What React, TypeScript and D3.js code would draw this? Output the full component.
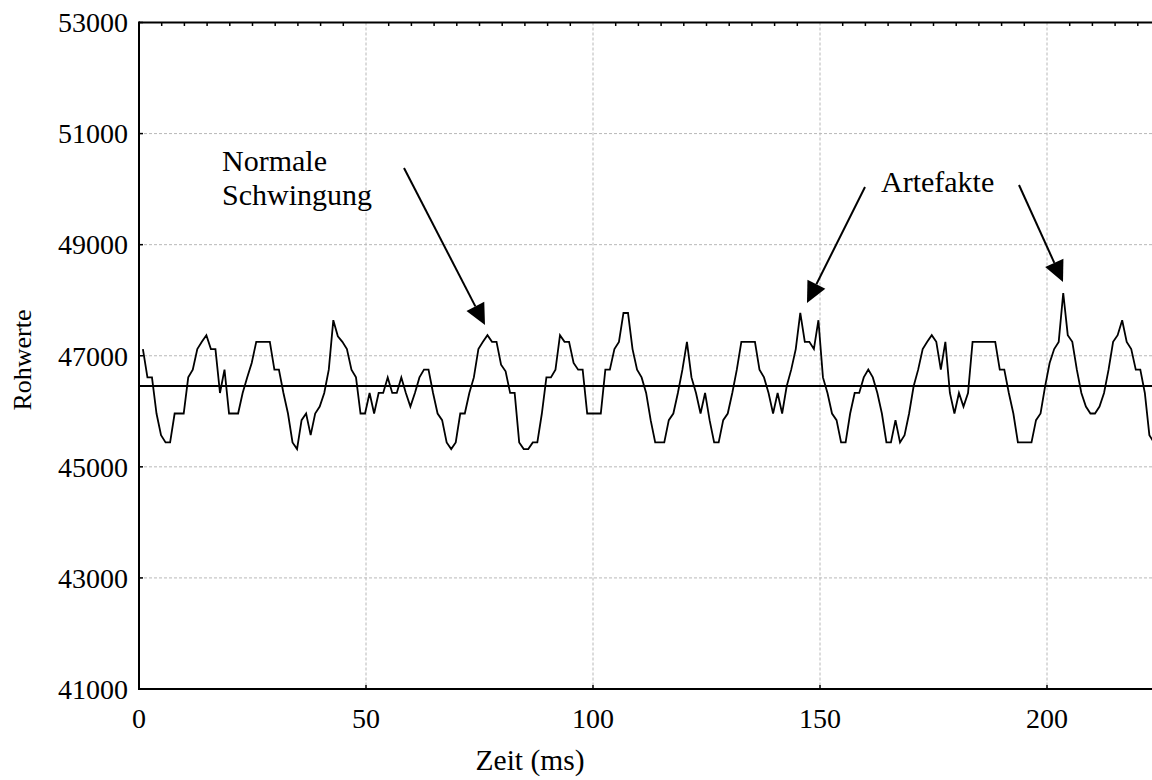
import React from "react";
import * as d3 from "d3";

// Raw values (Rohwerte), one sample per ~1 ms
const rawValues: number[] = [
  47120, 46610, 46610, 45960, 45570, 45440, 45440, 45960, 45960, 45960,
  46610, 46750, 47120, 47250, 47370, 47120, 47120, 46330, 46750, 45960,
  45960, 45960, 46330, 46610, 46870, 47250, 47250, 47250, 47250, 46750,
  46750, 46330, 45960, 45440, 45320, 45840, 45960, 45570, 45960, 46085,
  46330, 46750, 47640, 47350, 47250, 47120, 46750, 46610, 45960, 45960,
  46330, 45960, 46330, 46330, 46610, 46330, 46330, 46610, 46330, 46085,
  46330, 46610, 46750, 46750, 46330, 45960, 45840, 45440, 45320, 45440,
  45960, 45960, 46330, 46610, 47120, 47250, 47370, 47250, 47250, 46840,
  46720, 46330, 46330, 45440, 45320, 45320, 45440, 45440, 45960, 46610,
  46610, 46750, 47370, 47250, 47250, 46870, 46750, 46750, 45960, 45960,
  45960, 45960, 46750, 46750, 47120, 47250, 47770, 47770, 47120, 46750,
  46610, 46330, 45840, 45440, 45440, 45440, 45840, 45960, 46330, 46750,
  47250, 46610, 46330, 45960, 46330, 45840, 45440, 45440, 45840, 45960,
  46330, 46750, 47250, 47250, 47250, 47250, 46750, 46610, 46330, 45960,
  46330, 45960, 46450, 46750, 47120, 47770, 47250, 47250, 47120, 47640,
  46610, 46330, 45960, 45840, 45440, 45440, 45960, 46330, 46330, 46610,
  46750, 46610, 46330, 45960, 45440, 45440, 45840, 45440, 45570, 45960,
  46450, 46750, 47120, 47250, 47370, 47250, 46750, 47250, 46330, 45960,
  46330, 46085, 46330, 47250, 47250, 47250, 47250, 47250, 47250, 46750,
  46750, 46330, 45960, 45440, 45440, 45440, 45440, 45840, 45960, 46450,
  46870, 47120, 47250, 48130, 47370, 47250, 46750, 46330, 46085, 45960,
  45960, 46085, 46330, 46750, 47250, 47370, 47640, 47250, 47120, 46750,
  46750, 46330, 45570, 45440,
];

// sampling grid (ms)
const T_START = 0.86;
const T_STEP = 0.9986;

const meanLineValue = 46455;

const xTicks = [0, 50, 100, 150, 200];
const xMinorTicks = d3.range(0, 255, 5);
const yTicks = [41000, 43000, 45000, 47000, 49000, 51000, 53000];

const xTitle = "Zeit (ms)";
const yTitle = "Rohwerte";

const annotations = [
  { lines: ["Normale", "Schwingung"], x: 222, y: 171, anchor: "start" },
  { lines: ["Artefakte"], x: 881, y: 192, anchor: "start" },
];
const arrows = [
  { x1: 404, y1: 168, x2: 485, y2: 325 },
  { x1: 865, y1: 187, x2: 807, y2: 303 },
  { x1: 1019, y1: 185, x2: 1063, y2: 282 },
];

const W = 1152;
const H = 780;
const FONT = "'Liberation Serif', 'Times New Roman', Times, serif";

export default function App() {
  const x = d3.scaleLinear().domain([0, 200]).range([139, 1047]);
  const y = d3.scaleLinear().domain([41000, 53000]).range([689, 22.5]);

  const data = rawValues.map((v, i) => ({ t: T_START + i * T_STEP, v }));
  const line = d3
    .line<{ t: number; v: number }>()
    .x((d) => x(d.t))
    .y((d) => y(d.v));

  const left = x(0);
  const right = W;
  const top = y(53000);
  const bottom = y(41000);

  const arrowHead = (a: { x1: number; y1: number; x2: number; y2: number }) => {
    const dx = a.x2 - a.x1;
    const dy = a.y2 - a.y1;
    const len = Math.hypot(dx, dy);
    const ux = dx / len;
    const uy = dy / len;
    const L = 21;
    const hw = 10;
    const bx = a.x2 - ux * L;
    const by = a.y2 - uy * L;
    const p = [
      [a.x2, a.y2],
      [bx + uy * hw, by - ux * hw],
      [bx - uy * hw, by + ux * hw],
    ];
    return { pts: p.map((q) => q.join(",")).join(" "), bx, by };
  };

  return (
    <div style={{ position: "absolute", left: 0, top: 0 }}>
      <svg width={W} height={H} style={{ display: "block", background: "#fff" }}>
        <defs>
          <clipPath id="plotclip">
            <rect x={left} y={top} width={right - left} height={bottom - top} />
          </clipPath>
        </defs>
        {/* grid */}
        {xTicks
          .filter((t) => t > 0)
          .map((t) => (
            <line
              key={"gx" + t}
              x1={x(t)}
              x2={x(t)}
              y1={top}
              y2={bottom}
              stroke="#b8b8b8"
              strokeWidth={1}
              strokeDasharray="3,2"
            />
          ))}
        {yTicks
          .filter((t) => t > 41000 && t < 53000)
          .map((t) => (
            <line
              key={"gy" + t}
              x1={left}
              x2={right}
              y1={y(t)}
              y2={y(t)}
              stroke="#b8b8b8"
              strokeWidth={1}
              strokeDasharray="3,2"
            />
          ))}
        {/* mean line */}
        <line
          x1={left}
          x2={right}
          y1={y(meanLineValue)}
          y2={y(meanLineValue)}
          stroke="#000"
          strokeWidth={2}
        />
        {/* data */}
        <path
          d={line(data) || ""}
          fill="none"
          stroke="#000"
          strokeWidth={1.8}
          clipPath="url(#plotclip)"
        />
        {/* frame */}
        <line x1={left} x2={right} y1={top} y2={top} stroke="#000" strokeWidth={2} />
        <line x1={left} x2={right} y1={bottom} y2={bottom} stroke="#000" strokeWidth={2} />
        <line x1={left} x2={left} y1={top - 1} y2={bottom + 1} stroke="#000" strokeWidth={2} />
        {/* top minor ticks */}
        {xMinorTicks
          .filter((t) => t % 50 !== 0 && x(t) < W)
          .map((t) => (
            <line
              key={"tt" + t}
              x1={x(t)}
              x2={x(t)}
              y1={top}
              y2={top + 3.5}
              stroke="#000"
              strokeWidth={1.5}
            />
          ))}
        {/* bottom major ticks */}
        {xTicks.map((t) => (
          <line
            key={"bt" + t}
            x1={x(t)}
            x2={x(t)}
            y1={bottom}
            y2={bottom - 4}
            stroke="#000"
            strokeWidth={1.5}
          />
        ))}
        {/* left ticks */}
        {yTicks.map((t) => (
          <line
            key={"lt" + t}
            x1={left}
            x2={left + 4}
            y1={y(t)}
            y2={y(t)}
            stroke="#000"
            strokeWidth={1.5}
          />
        ))}
        {/* tick labels */}
        <g fontFamily={FONT} fontSize={28} fill="#000">
          {yTicks.map((t) => (
            <text key={"yl" + t} x={128} y={y(t)} dy="0.35em" textAnchor="end">
              {t}
            </text>
          ))}
          {xTicks.map((t) => (
            <text key={"xl" + t} x={x(t)} y={728} textAnchor="middle">
              {t}
            </text>
          ))}
        </g>
        {/* axis titles */}
        <text
          x={530}
          y={770}
          textAnchor="middle"
          fontFamily={FONT}
          fontSize={29.5}
          fill="#000"
        >
          {xTitle}
        </text>
        <text
          transform="translate(31,360) rotate(-90)"
          textAnchor="middle"
          fontFamily={FONT}
          fontSize={26}
          fill="#000"
        >
          {yTitle}
        </text>
        {/* annotations */}
        {annotations.map((a, i) => (
          <text
            key={"an" + i}
            x={a.x}
            y={a.y}
            fontFamily={FONT}
            fontSize={30}
            fill="#000"
            textAnchor={a.anchor as any}
          >
            {a.lines.map((l, j) => (
              <tspan key={j} x={a.x} dy={j === 0 ? 0 : 34}>
                {l}
              </tspan>
            ))}
          </text>
        ))}
        {arrows.map((a, i) => {
          const h = arrowHead(a);
          return (
            <g key={"ar" + i}>
              <line x1={a.x1} y1={a.y1} x2={h.bx} y2={h.by} stroke="#000" strokeWidth={2} />
              <polygon points={h.pts} fill="#000" />
            </g>
          );
        })}
      </svg>
    </div>
  );
}
